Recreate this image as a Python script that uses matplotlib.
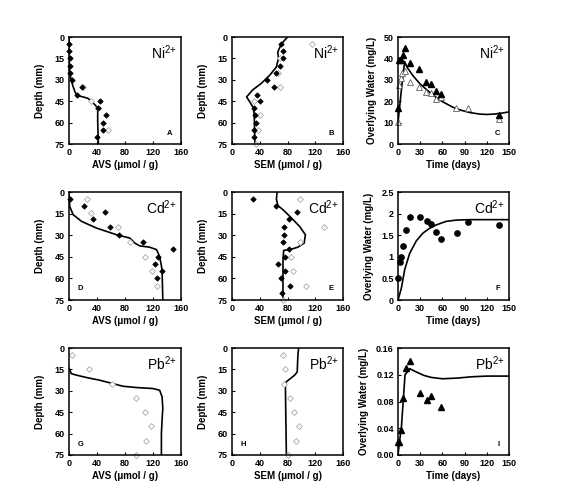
import numpy as np
from matplotlib import pyplot as plt

plt.rcParams['font.family'] = ['Liberation Sans', 'DejaVu Sans']
plt.rcParams['mathtext.fontset'] = 'custom'
plt.rcParams['mathtext.rm'] = 'Liberation Sans'
plt.rcParams['mathtext.default'] = 'regular'

# ---------------- Ni ----------------
ni_avs_fill_x = [0, 0, 1, 1, 2, 4, 18, 11, 44, 42, 53, 48, 48, 40]
ni_avs_fill_y = [5, 10, 15, 20, 25, 30, 35, 41, 45, 50, 55, 60, 65, 70]
ni_avs_open_x = [20, 31, 42, 55]
ni_avs_open_y = [35, 45, 50, 65]
ni_avs_line_x = [0, 0, 0, 1, 3, 6, 9, 12, 20, 27, 33, 38, 41, 41, 41, 42]
ni_avs_line_y = [0, 10, 20, 25, 30, 35, 39, 41, 42, 43, 45.5, 48, 50, 53, 60, 75]

ni_sem_fill_x = [71, 73, 74, 69, 64, 51, 61, 36, 41, 32, 33, 34, 31, 32]
ni_sem_fill_y = [5, 10, 15, 20, 25, 30, 35, 41, 45, 50, 55, 60, 65, 70]
ni_sem_open_x = [116, 69, 66, 69, 32, 40, 37, 35]
ni_sem_open_y = [5, 15, 25, 35, 45, 55, 65, 75]
ni_sem_line_x = [80, 71, 66, 67, 64, 54, 42, 30, 21, 25, 30, 32, 33]
ni_sem_line_y = [0, 5, 10.5, 15, 21, 27, 32.6, 37, 42, 45, 49, 54, 75]

ni_t_fill = [0, 1.4, 3.6, 7, 10, 16, 29, 38, 45, 51, 58, 136]
ni_w_fill = [16.6, 39.4, 39.4, 41.5, 45, 38, 35, 29, 28, 24.7, 23.4, 13.4]
ni_t_open = [0, 2, 3.6, 5.4, 10, 16, 29, 38, 45, 51, 58, 79, 94, 136]
ni_w_open = [10.3, 27.5, 31, 33, 34, 29, 26.7, 24.4, 24, 21, 22, 16.6, 16.6, 11.5]
ni_t_line = [0, 3, 6, 9, 12, 20, 30, 40, 52, 60, 74, 85, 97, 110, 120, 130, 140, 150]
ni_w_line = [10, 20, 30, 38.5, 36, 32, 28, 25, 21.6, 19.8, 17.2, 15.8, 14.7, 14, 13.8, 14, 14.4, 15]

# ---------------- Cd ----------------
cd_avs_fill_x = [2, 21, 52, 34, 58, 72, 106, 148, 127, 123, 133, 125]
cd_avs_fill_y = [5, 9.5, 14, 19, 24.6, 29.7, 34.8, 39.7, 44.8, 50, 54.8, 60]
cd_avs_open_x = [25, 31, 70, 87, 109, 119, 126]
cd_avs_open_y = [5, 14.6, 24.6, 34.8, 44.8, 54.8, 65]
cd_avs_line_x = [0, 1, 6, 18, 39, 68, 87, 94, 101, 115, 125, 129.5, 133, 134]
cd_avs_line_y = [0, 10, 15.8, 20.4, 25, 29.7, 32, 35.5, 37.4, 38.3, 40, 44.8, 54, 75]

cd_sem_fill_x = [30, 64, 94, 82, 74.5, 74.5, 73.5, 82, 76, 67, 76.4, 71, 83, 72.6]
cd_sem_fill_y = [5, 9.5, 14, 19, 24.6, 29.7, 34.8, 39.7, 44.8, 50, 54.8, 60, 65, 69.8]
cd_sem_open_x = [98.5, 133, 97.6, 84.6, 88, 106, 73.5]
cd_sem_open_y = [5, 24.6, 34.8, 44.8, 54.8, 65, 75]
cd_sem_line_x = [65, 64, 66.3, 73.5, 85.6, 97.6, 105.8, 104, 95, 85.6, 74.5, 73.5, 73.5]
cd_sem_line_y = [0, 5, 9.5, 12.3, 18, 24, 29.7, 35.5, 38.3, 39.7, 40.6, 47, 75]

cd_t_pts = [0, 2.3, 4.5, 7.2, 10.8, 16, 30, 39, 45, 52, 58.6, 80, 94, 137]
cd_w_pts = [0.52, 0.87, 1.0, 1.25, 1.62, 1.93, 1.93, 1.83, 1.75, 1.58, 1.41, 1.56, 1.80, 1.74]
cd_t_line = [0, 4.5, 9, 15.8, 24.8, 33.8, 42.8, 52, 65, 79, 97, 150]
cd_w_line = [0, 0.27, 0.7, 1.08, 1.37, 1.55, 1.66, 1.74, 1.82, 1.85, 1.86, 1.86]

# ---------------- Pb ----------------
pb_avs_open_x = [4.3, 29, 61, 96, 108, 117.6, 109.5, 96]
pb_avs_open_y = [4.7, 14.5, 25, 35, 44.8, 54.8, 65, 75]
pb_avs_line_x = [0, 3.3, 10.5, 25, 44, 63, 77, 96, 120, 129.5, 133, 134, 133, 132, 132]
pb_avs_line_y = [14, 18, 19, 20.7, 22.6, 25, 26.8, 27.7, 28.4, 29.6, 34.3, 42.4, 50, 60, 75]

pb_sem_open_x = [73.5, 77, 74.5, 83, 90, 96, 92.8, 80.8]
pb_sem_open_y = [4.7, 14.5, 25, 35, 44.8, 54.8, 65, 75]
pb_sem_line_x = [96, 95, 94, 90.4, 78, 77, 77.4, 78.4]
pb_sem_line_y = [0, 5, 16.8, 19, 23.8, 26.8, 42.4, 75]

pb_t_pts = [0, 2, 4.5, 7.2, 10.8, 16, 30, 39, 45, 58]
pb_w_pts = [0.02, 0.02, 0.038, 0.085, 0.13, 0.141, 0.093, 0.082, 0.088, 0.072]
pb_t_line = [0, 2, 4.5, 7, 9.5, 16, 25, 35, 45, 60, 80, 100, 120, 150]
pb_w_line = [0, 0.02, 0.04, 0.08, 0.12, 0.129, 0.124, 0.119, 0.116, 0.114, 0.115, 0.117, 0.118, 0.118]

W, H = 585, 499
fig = plt.figure(figsize=(W / 100, H / 100), dpi=100)

cols = [(69, 181), (232, 343), (398, 509)]
rows = [(37, 144), (192, 300), (348, 455)]

tick_kw = dict(labelsize=6.5, direction='in', length=2.5, width=0.8, pad=3)
lab_kw = dict(fontsize=7, fontweight='bold')


def make_ax(r, c):
    x0, x1 = cols[c]
    y0, y1 = rows[r]
    ax = fig.add_axes([x0 / W, 1 - y1 / H, (x1 - x0) / W, (y1 - y0) / H])
    ax.tick_params(**tick_kw)
    for s in ax.spines.values():
        s.set_linewidth(1.1)
    return ax


def depth_ax(ax, xlabel):
    ax.set_xlim(0, 160)
    ax.set_ylim(75, 0)
    ax.set_xticks([0, 40, 80, 120, 160])
    ax.set_yticks([0, 15, 30, 45, 60, 75])
    ax.set_ylabel('Depth (mm)', labelpad=7, **lab_kw)
    ax.set_xlabel(xlabel, labelpad=2, **lab_kw)
    for lab in ax.get_xticklabels() + ax.get_yticklabels():
        lab.set_fontweight('bold')


def time_ax(ax, ymax, yticks, fmt):
    ax.set_xlim(0, 150)
    ax.set_ylim(0, ymax)
    ax.set_xticks([0, 30, 60, 90, 120, 150])
    ax.set_yticks(yticks)
    ax.set_yticklabels([fmt(v) for v in yticks])
    ax.set_ylabel('Overlying Water (mg/L)', labelpad=5, **lab_kw)
    ax.set_xlabel('Time (days)', labelpad=2, **lab_kw)
    for lab in ax.get_xticklabels() + ax.get_yticklabels():
        lab.set_fontweight('bold')


def ion(ax, txt):
    ax.text(0.96, 0.94, txt + '$^{2{+}}$', transform=ax.transAxes, ha='right', va='top', fontsize=10)


def letter(ax, txt, left=False):
    if left:
        ax.text(0.08, 0.07, txt, transform=ax.transAxes, ha='left', va='bottom', fontsize=5.5, fontweight='bold')
    else:
        ax.text(0.92, 0.07, txt, transform=ax.transAxes, ha='right', va='bottom', fontsize=5.5, fontweight='bold')


fill_d = dict(marker='D', ls='none', ms=2.8, mfc='black', mec='black', mew=0.5, clip_on=False)
open_d = dict(marker='D', ls='none', ms=3.0, mfc='white', mec='#a8a8a8', mew=0.6, clip_on=False)
line_kw = dict(color='black', lw=1.2)

# A
ax = make_ax(0, 0)
ax.plot(ni_avs_line_x, ni_avs_line_y, **line_kw)
ax.plot(ni_avs_open_x, ni_avs_open_y, **open_d)
ax.plot(ni_avs_fill_x, ni_avs_fill_y, **fill_d)
depth_ax(ax, 'AVS (\u03bcmol / g)')
ion(ax, 'Ni')
letter(ax, 'A')

# B
ax = make_ax(0, 1)
ax.plot(ni_sem_line_x, ni_sem_line_y, **line_kw)
ax.plot(ni_sem_open_x, ni_sem_open_y, **open_d)
ax.plot(ni_sem_fill_x, ni_sem_fill_y, **fill_d)
depth_ax(ax, 'SEM (\u03bcmol / g)')
ion(ax, 'Ni')
letter(ax, 'B')

# C
ax = make_ax(0, 2)
ax.plot(ni_t_line, ni_w_line, **line_kw)
ax.plot(ni_t_open, ni_w_open, marker='^', ls='none', ms=3.8, mfc='white', mec='#606060', mew=0.6, clip_on=False)
ax.plot(ni_t_fill, ni_w_fill, marker='^', ls='none', ms=3.8, mfc='black', mec='black', clip_on=False)
time_ax(ax, 50, [0, 10, 20, 30, 40, 50], lambda v: '%d' % v)
ion(ax, 'Ni')
letter(ax, 'C')

# D
ax = make_ax(1, 0)
ax.plot(cd_avs_line_x, cd_avs_line_y, **line_kw)
ax.plot(cd_avs_open_x, cd_avs_open_y, **open_d)
ax.plot(cd_avs_fill_x, cd_avs_fill_y, **fill_d)
depth_ax(ax, 'AVS (\u03bcmol / g)')
ion(ax, 'Cd')
letter(ax, 'D', left=True)

# E
ax = make_ax(1, 1)
ax.plot(cd_sem_line_x, cd_sem_line_y, **line_kw)
ax.plot(cd_sem_open_x, cd_sem_open_y, **open_d)
ax.plot(cd_sem_fill_x, cd_sem_fill_y, **fill_d)
depth_ax(ax, 'SEM (\u03bcmol / g)')
ion(ax, 'Cd')
letter(ax, 'E')

# F
ax = make_ax(1, 2)
ax.plot(cd_t_line, cd_w_line, **line_kw)
ax.plot(cd_t_pts, cd_w_pts, marker='o', ls='none', ms=3.8, mfc='black', mec='black', clip_on=False)
time_ax(ax, 2.5, [0, 0.5, 1, 1.5, 2, 2.5], lambda v: '%g' % v)
ion(ax, 'Cd')
letter(ax, 'F')

# G
ax = make_ax(2, 0)
ax.plot(pb_avs_line_x, pb_avs_line_y, **line_kw)
ax.plot(pb_avs_open_x, pb_avs_open_y, **open_d)
depth_ax(ax, 'AVS (\u03bcmol / g)')
ion(ax, 'Pb')
letter(ax, 'G', left=True)

# H
ax = make_ax(2, 1)
ax.plot(pb_sem_line_x, pb_sem_line_y, **line_kw)
ax.plot(pb_sem_open_x, pb_sem_open_y, **open_d)
depth_ax(ax, 'SEM (\u03bcmol / g)')
ion(ax, 'Pb')
letter(ax, 'H', left=True)

# I
ax = make_ax(2, 2)
ax.plot(pb_t_line, pb_w_line, **line_kw)
ax.plot(pb_t_pts, pb_w_pts, marker='^', ls='none', ms=3.8, mfc='black', mec='black', clip_on=False)
time_ax(ax, 0.16, [0, 0.04, 0.08, 0.12, 0.16], lambda v: '%.2f' % v)
ion(ax, 'Pb')
letter(ax, 'I')

fig.savefig('out.png', dpi=100)
